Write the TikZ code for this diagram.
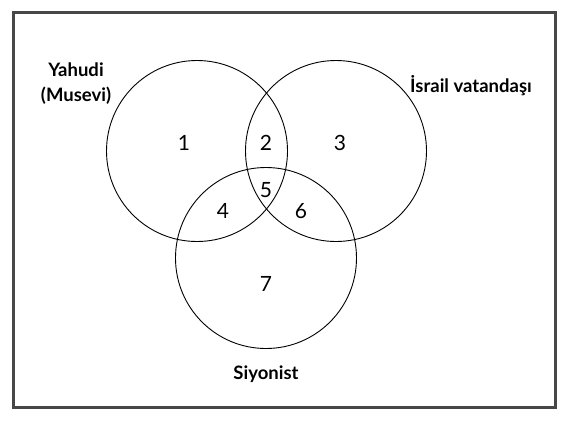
\documentclass[tikz,border=0pt]{standalone}
\usepackage{fontspec}
\setmainfont{Lato}
\begin{document}
\begin{tikzpicture}[x=1pt, y=-1pt,
    kume/.style={circle, draw=black, line width=0.9pt, minimum size=181pt, inner sep=0pt},
    etiket/.style={font=\fontsize{18.5}{25}\selectfont\bfseries, inner sep=0pt, align=center},
    bolge/.style={font=\fontsize{21}{23}\selectfont, inner sep=0pt}]
  \useasboundingbox (0,0) rectangle (568,424);
  % cerceve
  \draw[line width=3pt, black!72] (13,12) rectangle (555,407);
  % kumeler
  \node[kume] (yahudi) at (197,151) {};
  \node[kume] (israil) at (336,151) {};
  \node[kume] (siyon) at (266,258) {};
  % kume adlari
  \node[etiket] (lyahudi) at (76,84) {Yahudi\\(Musevi)};
  \node[etiket] (lisrail) at (471,86) {İsrail vatandaşı};
  \node[etiket] (lsiyon) at (266,374) {Siyonist};
  % bolge numaralari
  \node[bolge] (b1) at (184,143) {1};
  \node[bolge] (b2) at (266,143) {2};
  \node[bolge] (b3) at (340,143) {3};
  \node[bolge] (b4) at (223,211) {4};
  \node[bolge] (b5) at (266,190) {5};
  \node[bolge] (b6) at (301,211) {6};
  \node[bolge] (b7) at (266,284) {7};
\end{tikzpicture}
\end{document}
